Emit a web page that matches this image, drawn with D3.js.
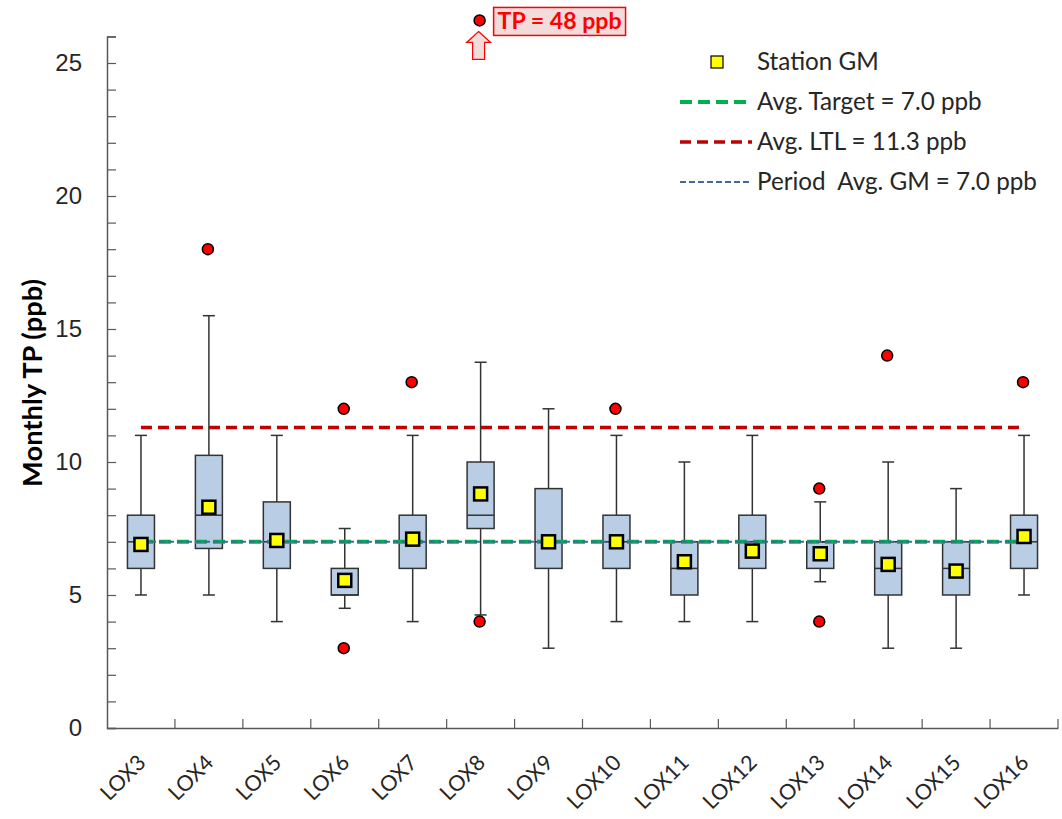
<!DOCTYPE html>
<html>
<head>
<meta charset="utf-8">
<script src="https://cdn.jsdelivr.net/npm/d3@7"></script>
<style>
  body { margin: 0; background: #fff; }
  svg { font-family: Lato, "Liberation Sans", sans-serif; }
</style>
</head>
<body>
<svg id="chart" width="1062" height="819"></svg>
<script>
// station data
const stations = ["LOX3", "LOX4", "LOX5", "LOX6", "LOX7", "LOX8", "LOX9", "LOX10", "LOX11", "LOX12", "LOX13", "LOX14", "LOX15", "LOX16"];
const whiskerLow  = [5, 5, 4, 4.5, 4, 4.25, 3, 4, 4, 4, 5.5, 3, 3, 5];
const q1          = [6, 6.75, 6, 5, 6, 7.5, 6, 6, 5, 6, 6, 5, 5, 6];
const median      = [7, 8, 7, 5, 7, 8, 7, 7, 6, 7, 7, 6, 6, 7];
const q3          = [8, 10.25, 8.5, 6, 8, 10, 9, 8, 7, 8, 7, 7, 7, 8];
const whiskerHigh = [11, 15.5, 11, 7.5, 11, 13.75, 12, 11, 10, 11, 8.5, 10, 9, 11];
const stationGM   = [6.9, 8.3, 7.05, 5.55, 7.1, 8.8, 7.0, 7.0, 6.25, 6.65, 6.55, 6.15, 5.9, 7.2];
// outliers: [station, value]
const outliers = [["LOX4", 18], ["LOX6", 12], ["LOX6", 3], ["LOX7", 13], ["LOX8", 4], ["LOX8", 48],
                  ["LOX10", 12], ["LOX13", 9], ["LOX13", 4], ["LOX14", 14], ["LOX16", 13]];
const avgTarget = 7.0;
const avgLTL = 11.3;
const periodGM = 7.0;
const yTicksMajor = [0, 5, 10, 15, 20, 25];
const yMax = 26;
const offscaleAt = 26.6;   // where an off-scale outlier is drawn

const svg = d3.select("#chart");
const m = { left: 107, right: 1058, top: 36.4, bottom: 728 };

// scale a text's font so its length matches a target width
function fitWidth(sel, target) {
  const fs = parseFloat(sel.attr("font-size"));
  const len = sel.node().getComputedTextLength();
  sel.attr("font-size", fs * target / len);
}

const x = d3.scaleBand().domain(stations).range([m.left, m.right]);
const y = d3.scaleLinear().domain([0, yMax]).range([m.bottom, m.top]);
const cx = s => x(s) + x.bandwidth() / 2;

// y axis
const yAxis = d3.axisLeft(y).tickValues(d3.range(0, yMax + 1)).tickSize(-9)
  .tickFormat(d => yTicksMajor.includes(d) ? d : "");
const gy = svg.append("g").attr("transform", `translate(${m.left},0)`).call(yAxis);
gy.select(".domain").attr("stroke", "#595959").attr("stroke-width", 1.5);
gy.selectAll(".tick line").attr("stroke", "#595959").attr("stroke-width", 1.2);
gy.selectAll(".tick text").attr("x", -25).attr("font-size", 24).attr("fill", "#262626");

// x axis
const xAxis = d3.axisBottom(x).tickSize(0).tickFormat("");
const gx = svg.append("g").attr("transform", `translate(0,${m.bottom})`).call(xAxis);
gx.select(".domain").attr("stroke", "#595959").attr("stroke-width", 1.5);
svg.append("g").selectAll("text")
  .data(stations)
  .join("text")
  .attr("transform", d => `translate(${cx(d) + 6},${m.bottom + 36}) rotate(-45)`)
  .attr("text-anchor", "end")
  .attr("font-size", 21.5).attr("fill", "#262626")
  .text(d => d);
// boundary ticks pointing up
svg.append("g").selectAll("line")
  .data(d3.range(1, stations.length + 1))
  .join("line")
  .attr("x1", i => i < stations.length ? x(stations[i]) : m.right)
  .attr("x2", i => i < stations.length ? x(stations[i]) : m.right)
  .attr("y1", m.bottom).attr("y2", m.bottom - 9)
  .attr("stroke", "#595959").attr("stroke-width", 1.2);

// y label
const ylab = svg.append("text")
  .attr("transform", `translate(42,383) rotate(-90)`)
  .attr("text-anchor", "middle")
  .attr("font-size", 24).attr("font-weight", "bold").attr("fill", "#000")
  .text("Monthly TP (ppb)");
fitWidth(ylab, 208);

// boxes
const boxW = 27, capW = 12;
const g = svg.append("g");
stations.forEach((s, i) => {
  const c = cx(s);
  const st = g.append("g");
  st.append("line").attr("x1", c).attr("x2", c).attr("y1", y(whiskerHigh[i])).attr("y2", y(q3[i]));
  st.append("line").attr("x1", c).attr("x2", c).attr("y1", y(q1[i])).attr("y2", y(whiskerLow[i]));
  st.append("line").attr("x1", c - capW / 2).attr("x2", c + capW / 2).attr("y1", y(whiskerHigh[i])).attr("y2", y(whiskerHigh[i]));
  st.append("line").attr("x1", c - capW / 2).attr("x2", c + capW / 2).attr("y1", y(whiskerLow[i])).attr("y2", y(whiskerLow[i]));
  st.append("rect").attr("x", c - boxW / 2).attr("width", boxW)
    .attr("y", y(q3[i])).attr("height", y(q1[i]) - y(q3[i]))
    .attr("fill", "#B9CDE5");
  st.append("line").attr("x1", c - boxW / 2).attr("x2", c + boxW / 2).attr("y1", y(median[i])).attr("y2", y(median[i]));
  st.selectAll("line, rect").attr("stroke", "#333").attr("stroke-width", 1.5);
});

// reference lines from first to last station
const lx1 = cx(stations[0]), lx2 = cx(stations[stations.length - 1]);
const gmBlue = "#44689C";
function refLine(v, color, w, dash) {
  svg.append("line").attr("x1", lx1).attr("x2", lx2).attr("y1", y(v)).attr("y2", y(v))
    .attr("stroke", color).attr("stroke-width", w).attr("stroke-dasharray", dash);
}
refLine(avgLTL, "#C00000", 3.5, "11 6");
refLine(avgTarget, "#00B050", 4, "12 6");
refLine(periodGM, gmBlue, 2, "6 3");

// station GM squares
svg.append("g").selectAll("rect")
  .data(stations)
  .join("rect")
  .attr("x", d => cx(d) - 6.5).attr("y", (d, i) => y(stationGM[i]) - 6.5)
  .attr("width", 13).attr("height", 13)
  .attr("fill", "#FFFF00").attr("stroke", "#000").attr("stroke-width", 2.5);

// outliers
svg.append("g").selectAll("circle")
  .data(outliers)
  .join("circle")
  .attr("cx", d => cx(d[0]) - 1)
  .attr("cy", d => y(Math.min(d[1], offscaleAt)))
  .attr("r", 5.5)
  .attr("fill", "#FF0000").attr("stroke", "#000").attr("stroke-width", 1.5);

// off-scale annotation
const big = outliers.find(d => d[1] > yMax);
const ax = cx(big[0]) - 2, ay = y(offscaleAt);
svg.append("path")
  .attr("d", `M${ax},${ay + 11} l12,11 h-6 v17 h-12 v-17 h-6 z`)
  .attr("fill", "#F2DCDB").attr("stroke", "#FF0000").attr("stroke-width", 1.2);
const annBox = svg.append("rect");
const label = svg.append("text")
  .attr("x", ax + 19).attr("y", ay + 9)
  .attr("font-size", 22).attr("font-weight", "bold").attr("fill", "#FF0000")
  .text(`TP = ${big[1]} ppb`);
fitWidth(label, 124);
const bb = label.node().getBBox();
annBox.attr("x", bb.x - 4).attr("y", bb.y + 1).attr("width", bb.width + 8).attr("height", bb.height)
  .attr("fill", "#F2DCDB").attr("stroke", "#FF0000").attr("stroke-width", 1.5);

// legend
const leg = svg.append("g").attr("fill", "#262626");
const legItems = [
  { text: "Station GM", type: "square" },
  { text: `Avg. Target = ${avgTarget.toFixed(1)} ppb`, type: "line", color: "#00B050", w: 4, dash: "12 6" },
  { text: `Avg. LTL = ${avgLTL.toFixed(1)} ppb`, type: "line", color: "#C00000", w: 3.5, dash: "11 6" },
  { text: `Period  Avg. GM = ${periodGM.toFixed(1)} ppb`, type: "line", color: gmBlue, w: 2, dash: "6 3" }
];
legItems.forEach((it, i) => {
  const ly = 62 + i * 40;
  if (it.type === "square") {
    leg.append("rect").attr("x", 711).attr("y", ly - 6).attr("width", 12).attr("height", 12)
      .attr("fill", "#FFFF00").attr("stroke", "#000").attr("stroke-width", 1.2);
  } else {
    leg.append("line").attr("x1", 680).attr("x2", 752).attr("y1", ly).attr("y2", ly)
      .attr("stroke", it.color).attr("stroke-width", it.w).attr("stroke-dasharray", it.dash);
  }
  leg.append("text").attr("x", 757).attr("y", ly + 8).attr("font-size", 21)
    .style("white-space", "pre").text(it.text);
});
const lastLeg = leg.selectAll("text").filter((d, i, n) => i === n.length - 1);
fitWidth(lastLeg, 280);
leg.selectAll("text").attr("font-size", lastLeg.attr("font-size"));
</script>
</body>
</html>
